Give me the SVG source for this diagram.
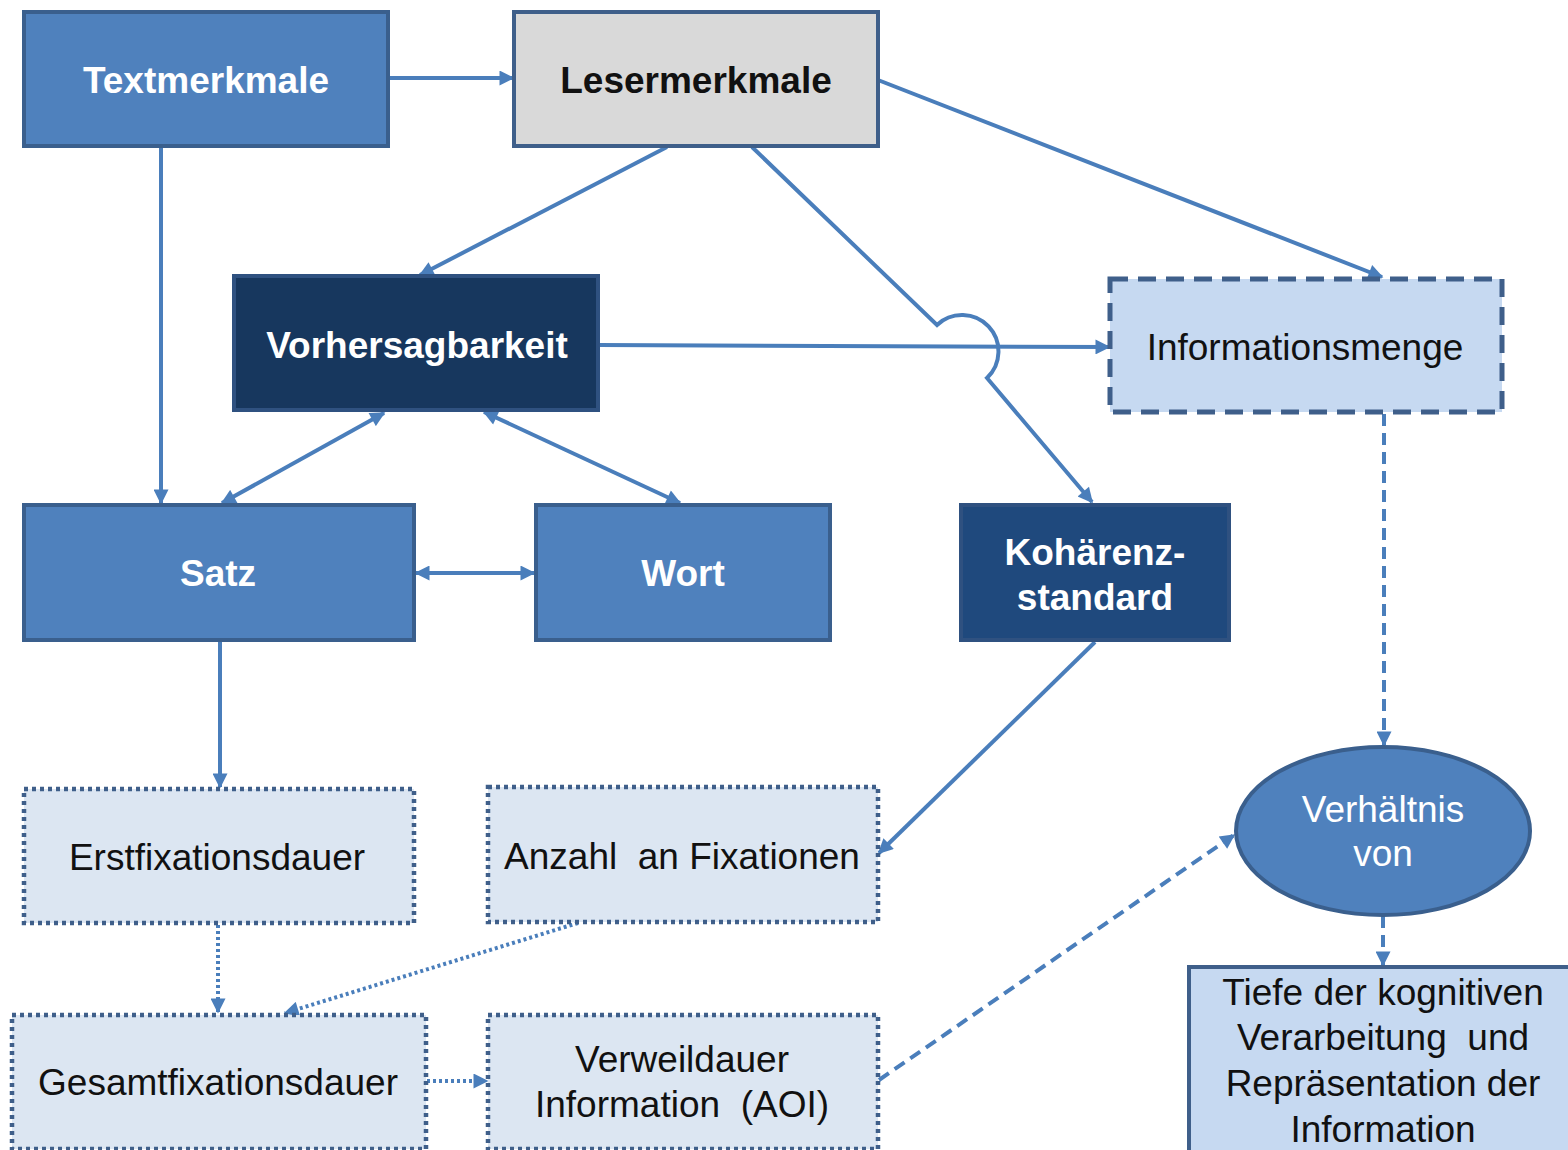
<svg xmlns="http://www.w3.org/2000/svg" width="1568" height="1150" viewBox="0 0 1568 1150">
  <style>
    text { font-family: "Liberation Sans", Arial, sans-serif; font-size: 37px; text-anchor: middle; white-space: pre; }
    .b { font-weight: bold; fill: #ffffff; }
    .bk { font-weight: bold; fill: #111111; }
    .w { fill: #ffffff; }
    .k { fill: #111111; }
    .mid { fill: #4f81bd; stroke: #3a5f8d; stroke-width: 4; }
    .navy { fill: #17375e; stroke: #2f5180; stroke-width: 4; }
    .dark { fill: #1f497d; stroke: #2f5180; stroke-width: 4; }
    .grey { fill: #d9d9d9; stroke: #3f5f8a; stroke-width: 4; }
    .light { fill: #c6d9f1; stroke: #3f5f8a; stroke-width: 4; }
    .dashbox { fill: #c6d9f1; stroke: #3f5f8a; stroke-width: 5; stroke-dasharray: 18 10; }
    .dotbox { fill: #dce6f2; stroke: #3f5f8a; stroke-width: 4.5; stroke-dasharray: 4 4; }
    .c { fill: none; stroke: #4a7ebb; stroke-width: 4; }
    .cdash { fill: none; stroke: #4a7ebb; stroke-width: 4; stroke-dasharray: 12 7; }
    .cdot { fill: none; stroke: #4a7ebb; stroke-width: 4; stroke-dasharray: 3 3; }
  </style>
  <defs>
    <marker id="ah" viewBox="0 0 10 10" refX="9" refY="5" markerWidth="17" markerHeight="15" markerUnits="userSpaceOnUse" orient="auto-start-reverse">
      <path d="M0,0 L10,5 L0,10 z" fill="#4a7ebb"/>
    </marker>
  </defs>

  <rect width="1568" height="1150" fill="#ffffff"/>

  <!-- connectors -->
  <g id="connectors">
    <line class="c" x1="388" y1="78" x2="513" y2="78" marker-end="url(#ah)"/>
    <line class="c" x1="161" y1="146" x2="161" y2="503" marker-end="url(#ah)"/>
    <line class="c" x1="667" y1="147" x2="420" y2="275" marker-end="url(#ah)"/>
    <!-- hop over the Vorhersagbarkeit → Informationsmenge line -->
    <path class="c" d="M752,147 L937,325 A36,36 0 1 1 987,378 L1092,502" marker-end="url(#ah)"/>
    <line class="c" x1="878" y1="80" x2="1382" y2="277" marker-end="url(#ah)"/>
    <line class="c" x1="599" y1="345" x2="1109" y2="347" marker-end="url(#ah)"/>
    <line class="c" x1="384" y1="413" x2="222" y2="503" marker-start="url(#ah)" marker-end="url(#ah)"/>
    <line class="c" x1="484" y1="412" x2="680" y2="503" marker-start="url(#ah)" marker-end="url(#ah)"/>
    <line class="c" x1="416" y1="573" x2="534" y2="573" marker-start="url(#ah)" marker-end="url(#ah)"/>
    <line class="c" x1="220" y1="641" x2="220" y2="787" marker-end="url(#ah)"/>
    <line class="c" x1="1095" y1="642" x2="879" y2="853" marker-end="url(#ah)"/>
    <line class="cdash" x1="1384" y1="414" x2="1384" y2="745" marker-end="url(#ah)"/>
    <line class="cdash" x1="1383" y1="916" x2="1383" y2="965" marker-end="url(#ah)"/>
    <line class="cdot" x1="218" y1="925" x2="218" y2="1012" marker-end="url(#ah)"/>
    <line class="cdot" x1="578" y1="923" x2="285" y2="1013" marker-end="url(#ah)"/>
    <line class="cdot" x1="427" y1="1081" x2="487" y2="1081" marker-end="url(#ah)"/>
    <line class="cdash" x1="879" y1="1080" x2="1234" y2="835" marker-end="url(#ah)"/>
  </g>

  <!-- nodes -->
  <g id="textmerkmale">
    <rect class="mid" x="24" y="12" width="364" height="134"/>
    <text class="b" x="206" y="93">Textmerkmale</text>
  </g>
  <g id="lesermerkmale">
    <rect class="grey" x="514" y="12" width="364" height="134"/>
    <text class="bk" x="696" y="93">Lesermerkmale</text>
  </g>
  <g id="vorhersagbarkeit">
    <rect class="navy" x="234" y="276" width="364" height="134"/>
    <text class="b" x="417" y="358">Vorhersagbarkeit</text>
  </g>
  <g id="informationsmenge">
    <rect class="dashbox" x="1110" y="279" width="392" height="133"/>
    <text class="k" x="1305" y="360">Informationsmenge</text>
  </g>
  <g id="satz">
    <rect class="mid" x="24" y="505" width="390" height="135"/>
    <text class="b" x="218" y="586">Satz</text>
  </g>
  <g id="wort">
    <rect class="mid" x="536" y="505" width="294" height="135"/>
    <text class="b" x="683" y="586">Wort</text>
  </g>
  <g id="kohaerenzstandard">
    <rect class="dark" x="961" y="505" width="268" height="135"/>
    <text class="b" x="1095" y="565">Kohärenz-</text>
    <text class="b" x="1095" y="610">standard</text>
  </g>
  <g id="erstfixationsdauer">
    <rect class="dotbox" x="24" y="789" width="390" height="134"/>
    <text class="k" x="217" y="870">Erstfixationsdauer</text>
  </g>
  <g id="anzahl-fixationen">
    <rect class="dotbox" x="488" y="787" width="390" height="135"/>
    <text class="k" x="682" y="869">Anzahl  an Fixationen</text>
  </g>
  <g id="gesamtfixationsdauer">
    <rect class="dotbox" x="12" y="1015" width="414" height="134"/>
    <text class="k" x="218" y="1095">Gesamtfixationsdauer</text>
  </g>
  <g id="verweildauer">
    <rect class="dotbox" x="488" y="1015" width="390" height="134"/>
    <text class="k" x="682" y="1072">Verweildauer</text>
    <text class="k" x="682" y="1117">Information  (AOI)</text>
  </g>
  <g id="verhaeltnis">
    <ellipse class="mid" cx="1383" cy="831" rx="147" ry="84"/>
    <text class="w" x="1383" y="822">Verhältnis</text>
    <text class="w" x="1383" y="866">von</text>
  </g>
  <g id="tiefe">
    <rect class="light" x="1189" y="967" width="385" height="190"/>
    <text class="k" x="1383" y="1005">Tiefe der kognitiven</text>
    <text class="k" x="1383" y="1050">Verarbeitung  und</text>
    <text class="k" x="1383" y="1096">Repräsentation der</text>
    <text class="k" x="1383" y="1142">Information</text>
  </g>
</svg>
